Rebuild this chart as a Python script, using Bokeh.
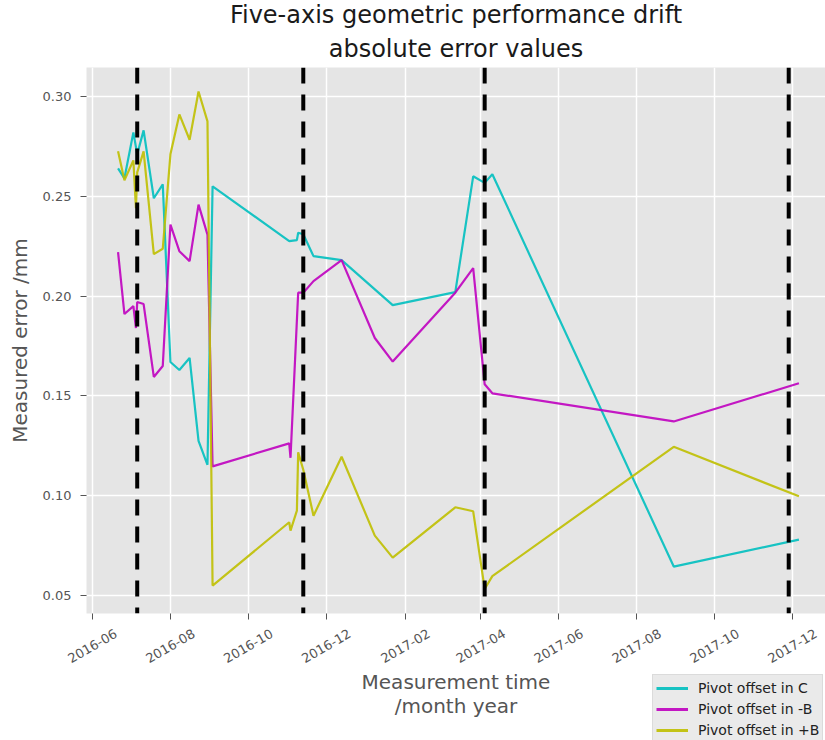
import math
import pandas as pd
from bokeh.plotting import figure
from bokeh.layouts import column
from bokeh.models import (Range1d, FixedTicker, DatetimeTickFormatter, PrintfTickFormatter,
                          Span, Legend, LegendItem, Title)
from bokeh.embed import file_html
from bokeh.resources import INLINE

# ---- measured absolute errors (mm) ----
c_dates = ["2016-06-21", "2016-06-26", "2016-07-03", "2016-07-06", "2016-07-11", "2016-07-19",
           "2016-07-26", "2016-08-01", "2016-08-08", "2016-08-16", "2016-08-23", "2016-08-30",
           "2016-09-03", "2016-11-02", "2016-11-08", "2016-11-09", "2016-11-13", "2016-11-21",
           "2016-12-13", "2017-01-22", "2017-03-12", "2017-03-26", "2017-04-04", "2017-04-10",
           "2017-08-30", "2017-12-06"]
c_vals = [0.264, 0.259, 0.282, 0.271, 0.283, 0.249, 0.256, 0.167, 0.163, 0.169, 0.1275, 0.1155,
          0.255, 0.2275, 0.228, 0.2317, 0.231, 0.220, 0.218, 0.1955, 0.202, 0.260, 0.2567, 0.261,
          0.0645, 0.078]

mb_dates = ["2016-06-21", "2016-06-26", "2016-07-03", "2016-07-05", "2016-07-06", "2016-07-11",
            "2016-07-19", "2016-07-26", "2016-08-01", "2016-08-08", "2016-08-16", "2016-08-23",
            "2016-08-30", "2016-09-03", "2016-11-02", "2016-11-03", "2016-11-09", "2016-11-13",
            "2016-11-21", "2016-12-13", "2017-01-08", "2017-01-22", "2017-03-12", "2017-03-26",
            "2017-04-04", "2017-04-10", "2017-08-30", "2017-12-06"]
mb_vals = [0.222, 0.191, 0.195, 0.184, 0.197, 0.196, 0.1595, 0.165, 0.2358, 0.2225, 0.2175, 0.2458,
           0.2308, 0.1147, 0.1262, 0.119, 0.2017, 0.2017, 0.2075, 0.218, 0.179, 0.1672, 0.2017,
           0.214, 0.1558, 0.1513, 0.1372, 0.1563]

pb_dates = ["2016-06-21", "2016-06-26", "2016-07-03", "2016-07-05", "2016-07-06", "2016-07-11",
            "2016-07-19", "2016-07-26", "2016-08-01", "2016-08-08", "2016-08-16", "2016-08-23",
            "2016-08-30", "2016-09-03", "2016-11-02", "2016-11-03", "2016-11-08", "2016-11-09",
            "2016-11-13", "2016-11-21", "2016-12-13", "2017-01-08", "2017-01-22", "2017-03-12",
            "2017-03-26", "2017-04-04", "2017-04-10", "2017-08-30", "2017-12-06"]
pb_vals = [0.2725, 0.258, 0.268, 0.244, 0.262, 0.2725, 0.221, 0.2237, 0.271, 0.291, 0.2783, 0.3025,
           0.2875, 0.055, 0.0867, 0.0825, 0.0925, 0.1217, 0.113, 0.090, 0.1195, 0.080, 0.069,
           0.0942, 0.0922, 0.0533, 0.0597, 0.1245, 0.0997]

# recalibration events (vertical dashed markers)
event_dates = ["2016-07-06", "2016-11-13", "2017-04-04", "2017-11-28"]

# axis ticks
month_ticks = ["2016-06-01", "2016-08-01", "2016-10-01", "2016-12-01", "2017-02-01",
               "2017-04-01", "2017-06-01", "2017-08-01", "2017-10-01", "2017-12-01"]
y_ticks = [0.05, 0.10, 0.15, 0.20, 0.25, 0.30]

series_labels = ["Pivot offset in C", "Pivot offset in -B", "Pivot offset in +B"]
series_colors = ["#00bfbf", "#bf00bf", "#bfbf00"]

FONT = "DejaVu Sans"
GREY = "#555555"
LINE_W = 2.2
LINE_A = 0.9


def ms(d):
    return pd.Timestamp(d).value / 1e6


DAY = 86400000.0
x_start = ms("2016-06-01") - 4.7 * DAY
x_end = ms("2016-06-01") + 573.8 * DAY

p = figure(width=825, height=740, x_axis_type="datetime", output_backend="svg",
           toolbar_location=None,
           x_range=Range1d(x_start, x_end), y_range=Range1d(0.041, 0.3145),
           min_border_left=86, min_border_right=0, min_border_top=66, min_border_bottom=127)
p.background_fill_color = "#e5e5e5"
p.border_fill_color = "white"
p.outline_line_color = None

# two centred title lines: the added Title sits next to the frame, p.title above it
p.title.text = "Five-axis geometric performance drift"
p.title.align = "center"
p.title.text_font = FONT
p.title.text_font_size = "24px"
p.title.text_font_style = "normal"
p.title.text_color = "#1a1a1a"
p.title.standoff = -3
p.add_layout(Title(text="absolute error values", align="center",
                   text_font=FONT, text_font_size="24px", text_font_style="normal",
                   text_color="#1a1a1a", standoff=10), "above")

# grid on the month ticks
tick_ms = [ms(d) for d in month_ticks]
p.xgrid.ticker = FixedTicker(ticks=tick_ms)
for g in (p.xgrid, p.ygrid):
    g.grid_line_color = "white"
    g.grid_line_width = 1.5

# x axis: tick marks at the months (minor ticks), rotated labels centred under them
fmt = "%Y-%m"
label_shift = 18.4 * DAY
xa = p.xaxis[0]
xa.ticker = FixedTicker(ticks=[t + label_shift for t in tick_ms], minor_ticks=tick_ms)
xa.formatter = DatetimeTickFormatter(milliseconds=fmt, seconds=fmt, minsec=fmt, minutes=fmt,
                                     hourmin=fmt, hours=fmt, days=fmt, months=fmt, years=fmt)
xa.major_label_orientation = math.pi / 6
xa.major_tick_out = 0
xa.major_tick_in = 0
xa.minor_tick_out = 6
xa.minor_tick_in = 0
xa.minor_tick_line_color = GREY
xa.axis_line_color = None
xa.major_label_text_font = FONT
xa.major_label_text_font_size = "13px"
xa.major_label_text_color = GREY
xa.major_label_standoff = 13
xa.axis_label = "Measurement time\n/month year"
xa.axis_label_text_font = FONT
xa.axis_label_text_font_size = "20px"
xa.axis_label_text_font_style = "normal"
xa.axis_label_text_color = GREY
xa.axis_label_text_line_height = 1.0
xa.axis_label_standoff = 0

# y axis
ya = p.yaxis[0]
ya.ticker = FixedTicker(ticks=y_ticks)
ya.formatter = PrintfTickFormatter(format="%.2f")
ya.major_tick_out = 6
ya.major_tick_in = 0
ya.minor_tick_out = 0
ya.minor_tick_in = 0
ya.axis_line_color = None
ya.major_tick_line_color = GREY
ya.major_label_text_font = FONT
ya.major_label_text_font_size = "13px"
ya.major_label_text_color = GREY
ya.major_label_standoff = 9
ya.axis_label = "Measured error /mm"
ya.axis_label_text_font = FONT
ya.axis_label_text_font_size = "20px"
ya.axis_label_text_font_style = "normal"
ya.axis_label_text_color = GREY
ya.axis_label_standoff = 8

# series
for dates, vals, col in ((c_dates, c_vals, series_colors[0]),
                         (mb_dates, mb_vals, series_colors[1]),
                         (pb_dates, pb_vals, series_colors[2])):
    p.line(pd.to_datetime(dates), vals, line_color=col, line_width=LINE_W, line_alpha=LINE_A)

# event markers
for d in event_dates:
    p.add_layout(Span(location=ms(d), dimension="height", line_color="black",
                      line_width=4, line_dash="16 11"))

# legend panel, laid over the lower right corner of the chart
# (its frame is aligned with the main frame's left border, hence the extra width)
leg = figure(width=259, height=66, output_backend="svg", toolbar_location=None,
             x_range=Range1d(0, 1), y_range=Range1d(0, 1), min_border=0)
leg.title.visible = False
leg.axis.visible = False
leg.grid.visible = False
leg.outline_line_color = None
leg.background_fill_alpha = 0
leg.border_fill_alpha = 0
leg_items = []
for lab, col in zip(series_labels, series_colors):
    # sample line kept outside the visible range: only its legend swatch shows
    r = leg.line([5, 6], [5, 6], line_color=col, line_width=LINE_W + 1, line_alpha=LINE_A)
    leg_items.append(LegendItem(label=lab, renderers=[r]))
leg.add_layout(Legend(
    items=leg_items, location="top_left",
    background_fill_color="#e5e5e5", background_fill_alpha=0.8,
    border_line_color="#cccccc", border_line_width=1,
    label_text_font=FONT, label_text_font_size="14px", label_text_color="#222222",
    glyph_width=32, glyph_height=20, label_height=20, label_standoff=10,
    spacing=1, padding=3, margin=0,
), "center")
leg.margin = (-66, 0, 0, 566)

page = column(p, leg, spacing=0)
open("out.html", "w").write(file_html(page, INLINE))
